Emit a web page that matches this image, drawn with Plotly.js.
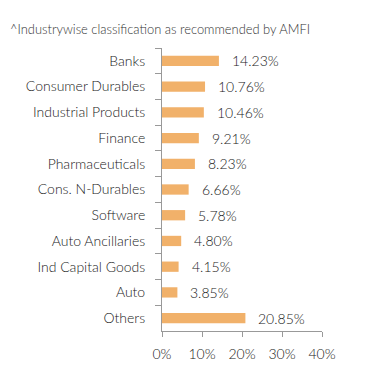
<!DOCTYPE html>
<html><head><meta charset="utf-8">
<script src="https://cdn.plot.ly/plotly-3.0.1.min.js"></script>
<style>html,body{margin:0;padding:0;background:#fff}#chart{width:391px;height:386px}</style>
</head><body><div id="chart"></div>
<script>
const categories = ["Banks","Consumer Durables","Industrial Products","Finance","Pharmaceuticals","Cons. N-Durables","Software","Auto Ancillaries","Ind Capital Goods","Auto","Others"];
const values = [14.23,10.76,10.46,9.21,8.23,6.66,5.78,4.80,4.15,3.85,20.85];
const valueLabels = ["14.23%","10.76%","10.46%","9.21%","8.23%","6.66%","5.78%","4.80%","4.15%","3.85%","20.85%"];
const xTickVals = [0,10,20,30,40];
const xTickText = ["0%","10%","20%","30%","40%"];
const titleText = "^Industrywise classification as recommended by AMFI";

const fontFam = "Lato, 'Open Sans', sans-serif";
const trace = {
  type: "bar", orientation: "h",
  x: values, y: categories,
  marker: {color: "#F1B16A"},
  width: 0.4,
  hoverinfo: "none"
};
const annotations = values.map((v,i)=>({
  x: v, y: categories[i], xref: "x", yref: "y",
  text: valueLabels[i], showarrow: false, xanchor: "left", xshift: 11,
  font: {family: fontFam, size: 14, color: "#222", weight: 300}
}));
annotations.push({
  text: titleText, xref: "paper", yref: "paper", x: (8-162)/160, y: 1 + (48-29)/283,
  xanchor: "left", yanchor: "middle",
  showarrow: false, font: {family: fontFam, size: 12.9, color: "#333", weight: 300}
});
const layout = {
  width: 391, height: 386,
  margin: {l: 162, r: 69, t: 48, b: 55},
  paper_bgcolor: "#fff", plot_bgcolor: "#fff",
  showlegend: false,
  font: {family: fontFam, size: 14, color: "#222", weight: 300},
  xaxis: {
    range: [0, 40], tickvals: xTickVals, ticktext: xTickText,
    showgrid: false, zeroline: false, showline: true, linecolor: "#999", linewidth: 1,
    ticks: "outside", ticklen: 5, tickcolor: "#999", ticklabelstandoff: 5, fixedrange: true
  },
  yaxis: {
    type: "category", autorange: "reversed",
    showgrid: false, zeroline: false, showline: true, linecolor: "#999", linewidth: 1,
    ticks: "outside", ticklen: 6, tickcolor: "#999", tickson: "boundaries",
    ticklabelstandoff: 13, fixedrange: true
  },
  annotations: annotations
};
Plotly.newPlot("chart", [trace], layout, {displayModeBar: false, staticPlot: true});
</script></body></html>
